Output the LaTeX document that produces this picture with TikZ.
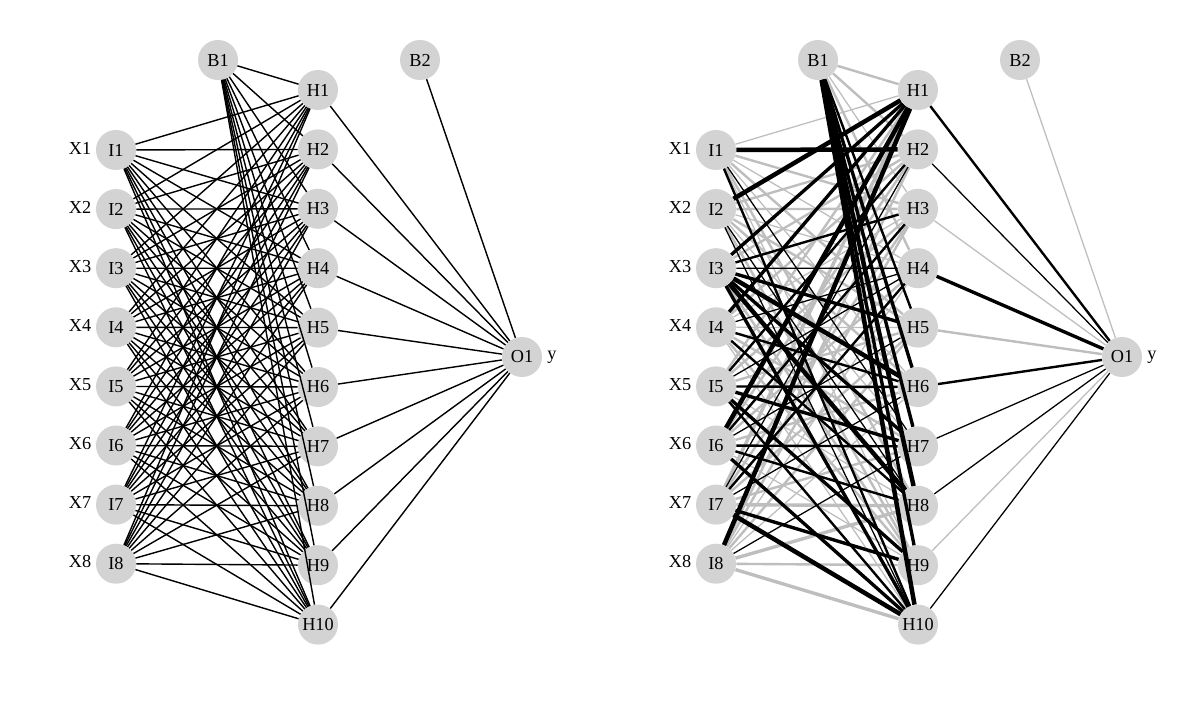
\documentclass[tikz,border=0pt]{standalone}
\usepackage{fontspec}
\setmainfont{Liberation Serif}
\definecolor{nodegrey}{RGB}{211,211,211}
\definecolor{edgegrey}{RGB}{190,190,190}
\begin{document}
\begin{tikzpicture}[x=0.025cm,y=-0.025cm,
  neuron/.style={circle,fill=nodegrey,minimum size=1cm,inner sep=0pt,font=\fontsize{13}{15}\selectfont},
  lbl/.style={font=\fontsize{13}{15}\selectfont,inner sep=0pt},
  wire/.style={line width=1pt,black},
  ck/.style={black},
  cg/.style={edgegrey},
  w1/.style={line width=0.9pt},
  w2/.style={line width=1.7pt},
  w3/.style={line width=2.4pt},
  w4/.style={line width=3.2pt}]
\useasboundingbox (0,0) rectangle (1200,716);
\fill[white] (0,0) rectangle (1200,716);
% nodes of both networks
\foreach \p/\ox in {L/0,R/600}{
  \node[neuron] (\p B1) at ({218+\ox},60) {B1};
  \node[neuron] (\p B2) at ({420+\ox},60) {B2};
  \node[neuron] (\p O1) at ({522+\ox},357) {O1};
  \node[lbl] (\p y) at ({552+\ox},357) {y};
  \foreach \i in {1,...,8}{
    \node[neuron] (\p I\i) at ({116+\ox},{150+59.1*(\i-1)}) {I\i};
    \node[lbl] (\p X\i) at ({80+\ox},{150+59.1*(\i-1)-2}) {X\i};
  }
  \foreach \j in {1,...,10}{
    \node[neuron] (\p H\j) at ({318+\ox},{90+59.4*(\j-1)}) {H\j};
  }
}
% left network: all connections plain black
\foreach \i in {1,...,8}{
  \foreach \j in {1,...,10}{
    \draw[wire] (LI\i) -- (LH\j);
  }
}
\foreach \j in {1,...,10}{
  \draw[wire] (LB1) -- (LH\j);
  \draw[wire] (LH\j) -- (LO1);
}
\draw[wire] (LB2) -- (LO1);
% right network: weighted connections (black = positive, grey = negative)
\foreach \a/\b/\c/\w in {
  I1/H1/g/1, I1/H3/g/2, I1/H4/g/1, I1/H5/g/2, I1/H6/g/1, I1/H8/g/2, I1/H9/g/1,
  I2/H2/g/2, I2/H3/g/2, I2/H4/g/1, I2/H5/g/2, I2/H6/g/2, I2/H7/g/1, I2/H9/g/2,
  I3/H2/g/2, I3/H9/g/2,
  I4/H2/g/2, I4/H3/g/1, I4/H5/g/1, I4/H7/g/2, I4/H9/g/2, I4/H10/g/1,
  I5/H1/g/2, I5/H3/g/2, I5/H5/g/2, I5/H8/g/1,
  I6/H2/g/2, I6/H4/g/2, I6/H6/g/2, I6/H9/g/1,
  I7/H1/g/3, I7/H3/g/2, I7/H5/g/2, I7/H7/g/2, I7/H8/g/3,
  I8/H2/g/2, I8/H3/g/2, I8/H4/g/1, I8/H5/g/2, I8/H6/g/1, I8/H8/g/3, I8/H9/g/2, I8/H10/g/3,
  B1/H1/g/2, B1/H2/g/2, B1/H3/g/1, B1/H4/g/2,
  I1/H2/k/4, I1/H7/k/1, I1/H10/k/2,
  I2/H1/k/4, I2/H8/k/1, I2/H10/k/1,
  I3/H1/k/3, I3/H3/k/2, I3/H4/k/1, I3/H5/k/3, I3/H6/k/4, I3/H7/k/3, I3/H8/k/4, I3/H10/k/3,
  I4/H1/k/3, I4/H4/k/1, I4/H6/k/2, I4/H8/k/2,
  I5/H2/k/2, I5/H4/k/1, I5/H6/k/2, I5/H7/k/3, I5/H9/k/3, I5/H10/k/2,
  I6/H1/k/4, I6/H3/k/2, I6/H5/k/1, I6/H7/k/2, I6/H8/k/2, I6/H10/k/3,
  I7/H2/k/1, I7/H4/k/2, I7/H6/k/1, I7/H9/k/3, I7/H10/k/4,
  I8/H1/k/4, I8/H7/k/1,
  B1/H5/k/2, B1/H6/k/3, B1/H7/k/3, B1/H8/k/4, B1/H9/k/3, B1/H10/k/4}{
  \draw[c\c,w\w] (R\a) -- (R\b);
}
\foreach \j/\c/\w in {1/k/2, 2/k/1, 3/g/1, 4/k/3, 5/g/2, 6/k/2, 7/k/1, 8/k/1, 9/g/1, 10/k/1}{
  \draw[c\c,w\w] (RH\j) -- (RO1);
}
\draw[cg,w1] (RB2) -- (RO1);
\end{tikzpicture}
\end{document}
